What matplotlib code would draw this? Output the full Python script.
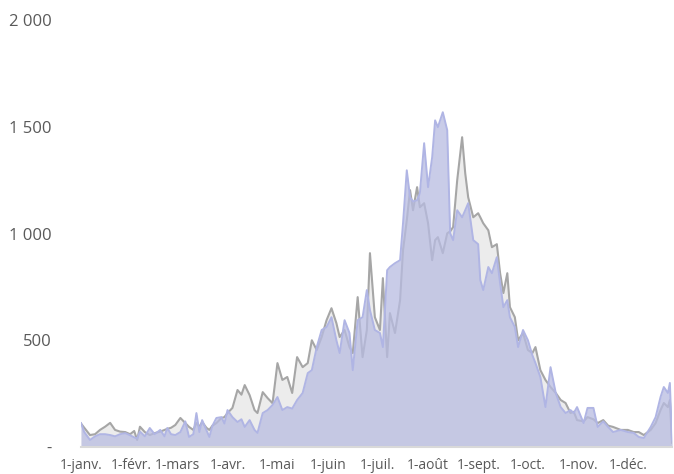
import matplotlib
matplotlib.use("Agg")
import matplotlib.pyplot as plt
import matplotlib.ticker as mticker
import pandas as pd

# jour de l'annee (0 = 1er janvier)
jours = [0, 2, 5.5, 8.6, 11.6, 14.7, 17.8, 20.8, 23.9, 27, 30, 32.5, 34.3, 36, 39, 42, 45, 48.4, 51, 52.7,
         55, 57.6, 60.7, 63.7, 66, 68.6, 70.5, 72.3, 74, 76.6, 78.4, 80.3, 82.7, 85.8, 87.6, 89.5, 92.5, 95.6,
         98, 100, 103, 106, 107.8, 111, 114, 117, 120, 123, 126, 129, 132, 135.4, 138.5, 141, 144, 147, 150,
         153, 156, 158, 161, 164, 166, 169, 172, 174.6, 176.5, 179.5, 182.6, 184.4, 187, 188.7, 191.8, 194.9,
         196.7, 199, 201, 202.8, 205.3, 207, 209.6, 212, 214.5, 216.3, 218, 221, 223.7, 225.5, 227.3, 229.8,
         232.8, 234.7, 236.5, 239.6, 242.6, 243.9, 245.7, 248.8, 251, 254, 256, 258, 260.4, 262, 265, 267,
         270, 273, 275.7, 277.6, 280.6, 283.7, 286.8, 290, 293, 296, 299, 301, 303, 307, 309.4, 313, 315.6,
         319, 322, 325, 329.7, 334, 337.6, 340.7, 343.8, 348, 351, 354, 356, 358.5, 359.7, 361]

gris = [110, 90, 56, 60, 80, 95, 113, 80, 72, 70, 60, 75, 33, 95, 70, 56, 65, 72, 80, 85,
        90, 103, 136, 112, 94, 80, 112, 95, 117, 90, 80, 100, 112, 136, 140, 159, 183, 267,
        245, 290, 243, 173, 159, 257, 229, 205, 393, 314, 328, 253, 421, 374, 393, 500, 454, 515, 594,
        650, 580, 515, 548, 468, 440, 702, 421, 548, 908, 608, 548, 791, 421, 627, 534, 688,
        922, 1062, 1203, 1109, 1217, 1123, 1142, 1048, 875, 969, 983, 908, 1001, 1010, 1030, 1250,
        1451, 1282, 1170, 1076, 1095, 1076, 1048, 1015, 936, 950, 814, 721, 814, 655, 608, 500,
        534, 454, 440, 468, 360, 314, 281, 253, 220, 206, 159, 165, 126, 120, 140, 130, 112,
        126, 100, 94, 80, 80, 70, 70, 56, 80, 112, 173, 206, 187, 220, 20]

bleu = [112, 70, 33, 50, 60, 60, 56, 50, 60, 65, 55, 45, 40, 72, 50, 89, 60, 80, 50, 89,
        60, 56, 70, 120, 47, 60, 159, 70, 126, 80, 47, 100, 136, 140, 110, 173, 140, 117,
        130, 94, 126, 80, 66, 159, 173, 197, 234, 173, 187, 180, 220, 253, 346, 360, 468, 548, 562,
        608, 500, 440, 594, 534, 360, 594, 608, 735, 641, 548, 534, 468, 828, 843, 861, 875,
        1048, 1296, 1170, 1150, 1156, 1189, 1423, 1217, 1357, 1530, 1498, 1568, 1484, 1001, 969, 1109,
        1076, 1109, 1142, 969, 950, 782, 735, 843, 814, 889, 768, 655, 688, 608, 562, 468,
        548, 500, 430, 393, 328, 187, 374, 253, 187, 159, 173, 159, 187, 112, 183, 183, 94,
        120, 94, 70, 80, 70, 66, 47, 42, 94, 140, 234, 281, 253, 300, 30]

mois = ["1-janv.", "1-févr.", "1-mars", "1-avr.", "1-mai", "1-juin", "1-juil.",
        "1-août", "1-sept.", "1-oct.", "1-nov.", "1-déc."]

plt.rcParams['font.family'] = ['Open Sans', 'DejaVu Sans']

debut = pd.Timestamp("2021-01-01")
dates = debut + pd.to_timedelta(jours, unit="D")

W, H = 674, 474
fig = plt.figure(figsize=(W / 100, H / 100), dpi=100)
ax = fig.add_axes([81 / W, 27 / H, (672 - 81) / W, (454 - 27) / H])

ax.fill_between(dates, gris, color="#ececec", lw=0, zorder=1)
ax.plot(dates, gris, color="#a6a6a6", lw=1.5, zorder=2)
ax.fill_between(dates, bleu, color="#b8bce1", alpha=0.75, lw=0, zorder=3)
ax.plot(dates, bleu, color="#b0b5e4", lw=1.4, zorder=4)

ax.set_xlim(debut, debut + pd.Timedelta(days=361))
ax.set_ylim(0, 2000)

ax.set_xticks(pd.date_range("2021-01-01", periods=12, freq="MS"))
ax.set_xticklabels(mois)
ax.yaxis.set_major_locator(mticker.MultipleLocator(500))
ax.yaxis.set_major_formatter(mticker.FuncFormatter(
    lambda v, p: "-" if v == 0 else f"{int(v):,}".replace(",", " ")))

for s in ["top", "right", "left"]:
    ax.spines[s].set_visible(False)
ax.spines["bottom"].set_color("#d9d9d9")
ax.spines["bottom"].set_linewidth(1.5)
ax.spines["bottom"].set_zorder(5)
ax.tick_params(axis="both", length=0, colors="#595959")
ax.tick_params(axis="x", labelsize=10, pad=8)
ax.tick_params(axis="y", labelsize=12, pad=21)

fig.savefig("out.png", dpi=100)
